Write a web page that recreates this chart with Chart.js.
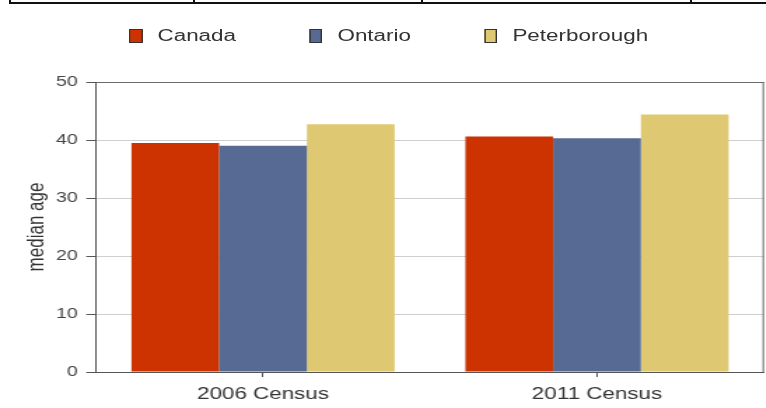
<!DOCTYPE html>
<html>
<head>
<meta charset="utf-8">
<script src="https://cdn.jsdelivr.net/npm/chart.js@4.4.1/dist/chart.umd.min.js"></script>
<style>
  html, body { margin: 0; padding: 0; background: #fff; }
  body { width: 766px; height: 408px; position: relative; overflow: hidden; font-family: 'Liberation Sans', Arial, sans-serif; }
  /* table border remnants across the top */
  .rule { position: absolute; background: #111; }
  /* the original picture is stretched sideways, so draw narrow and scale */
  #wrap { position: absolute; left: 0; top: 0; width: 547px; height: 408px; transform: scaleX(1.4); transform-origin: 0 0; }
  #legend { position: absolute; left: 92px; top: 27px; display: flex; align-items: center; gap: 52px; font-size: 16px; color: #333; }
  .item { display: flex; align-items: center; white-space: nowrap; }
  .swatch { width: 9.5px; height: 14px; border: 1px solid #333; box-sizing: border-box; margin-right: 11px; }
</style>
</head>
<body>
<div class="rule" style="left:9px; top:2px; width:757px; height:2px;"></div>
<div class="rule" style="left:9px; top:0; width:2px; height:4px;"></div>
<div class="rule" style="left:193px; top:0; width:2px; height:4px;"></div>
<div class="rule" style="left:421px; top:0; width:2px; height:4px;"></div>
<div class="rule" style="left:690px; top:0; width:2px; height:4px;"></div>

<div id="wrap">
  <div id="legend"></div>
  <canvas id="ageChart" width="547" height="408"></canvas>
</div>

<script>
// --- DATA ---
const categories = ['2006 Census', '2011 Census'];
const seriesNames = ['Canada', 'Ontario', 'Peterborough'];
const seriesColors = ['#cc3300', '#566a93', '#dfc872'];
const canadaAge = [39.5, 40.6];
const ontarioAge = [39.0, 40.3];
const peterboroughAge = [42.7, 44.4];
const yTicks = [0, 10, 20, 30, 40, 50];

const FONT = "'Liberation Sans', Arial, sans-serif";

// HTML legend (spacing in the original is wider than Chart.js allows)
const legendEl = document.getElementById('legend');
seriesNames.forEach((name, i) => {
  const item = document.createElement('div');
  item.className = 'item';
  const sw = document.createElement('span');
  sw.className = 'swatch';
  sw.style.background = seriesColors[i];
  const label = document.createElement('span');
  label.innerText = name;
  item.appendChild(sw);
  item.appendChild(label);
  legendEl.appendChild(item);
});

// right-hand frame line of the plot area
const frameRight = {
  id: 'frameRight',
  afterDatasetsDraw(chart) {
    const { ctx, chartArea } = chart;
    ctx.save();
    ctx.strokeStyle = '#666';
    ctx.lineWidth = 1;
    ctx.beginPath();
    ctx.moveTo(chartArea.right - 0.5, chartArea.top);
    ctx.lineTo(chartArea.right - 0.5, chartArea.bottom);
    ctx.stroke();
    ctx.restore();
  }
};

const seriesData = [canadaAge, ontarioAge, peterboroughAge];

new Chart(document.getElementById('ageChart'), {
  type: 'bar',
  data: {
    labels: categories,
    datasets: seriesNames.map((name, i) => ({
      label: name,
      data: seriesData[i],
      backgroundColor: seriesColors[i],
      borderWidth: 0,
      categoryPercentage: 0.788,
      barPercentage: 1.0
    }))
  },
  options: {
    responsive: false,
    maintainAspectRatio: false,
    animation: false,
    layout: { padding: { top: 82, right: 1.3, bottom: 0, left: 0 } },
    plugins: {
      legend: { display: false },
      tooltip: { enabled: false }
    },
    scales: {
      x: {
        grid: {
          display: true,
          drawOnChartArea: false,
          offset: false,
          tickLength: 5,
          tickColor: '#555'
        },
        border: { color: '#555', width: 1 },
        ticks: {
          color: '#333',
          padding: 8,
          font: { family: FONT, size: 16 }
        },
        afterFit(scale) { scale.height = 36; }
      },
      y: {
        min: 0,
        max: 50,
        afterBuildTicks(scale) { scale.ticks = yTicks.map(v => ({ value: v })); },
        grid: {
          color: ctx => (ctx.tick && ctx.tick.value === 50) ? '#6b6b6b' : '#cfcfcf',
          tickLength: 7,
          tickColor: '#555'
        },
        border: { color: '#555', width: 1 },
        ticks: {
          color: '#444',
          padding: 6,
          font: { family: FONT, size: 14 }
        },
        title: {
          display: true,
          text: 'median age',
          color: '#333',
          padding: { top: 16, bottom: 0 },
          font: { family: FONT, size: 17 }
        },
        afterFit(scale) { scale.width = 68.6; }
      }
    }
  },
  plugins: [frameRight]
});
</script>
</body>
</html>
